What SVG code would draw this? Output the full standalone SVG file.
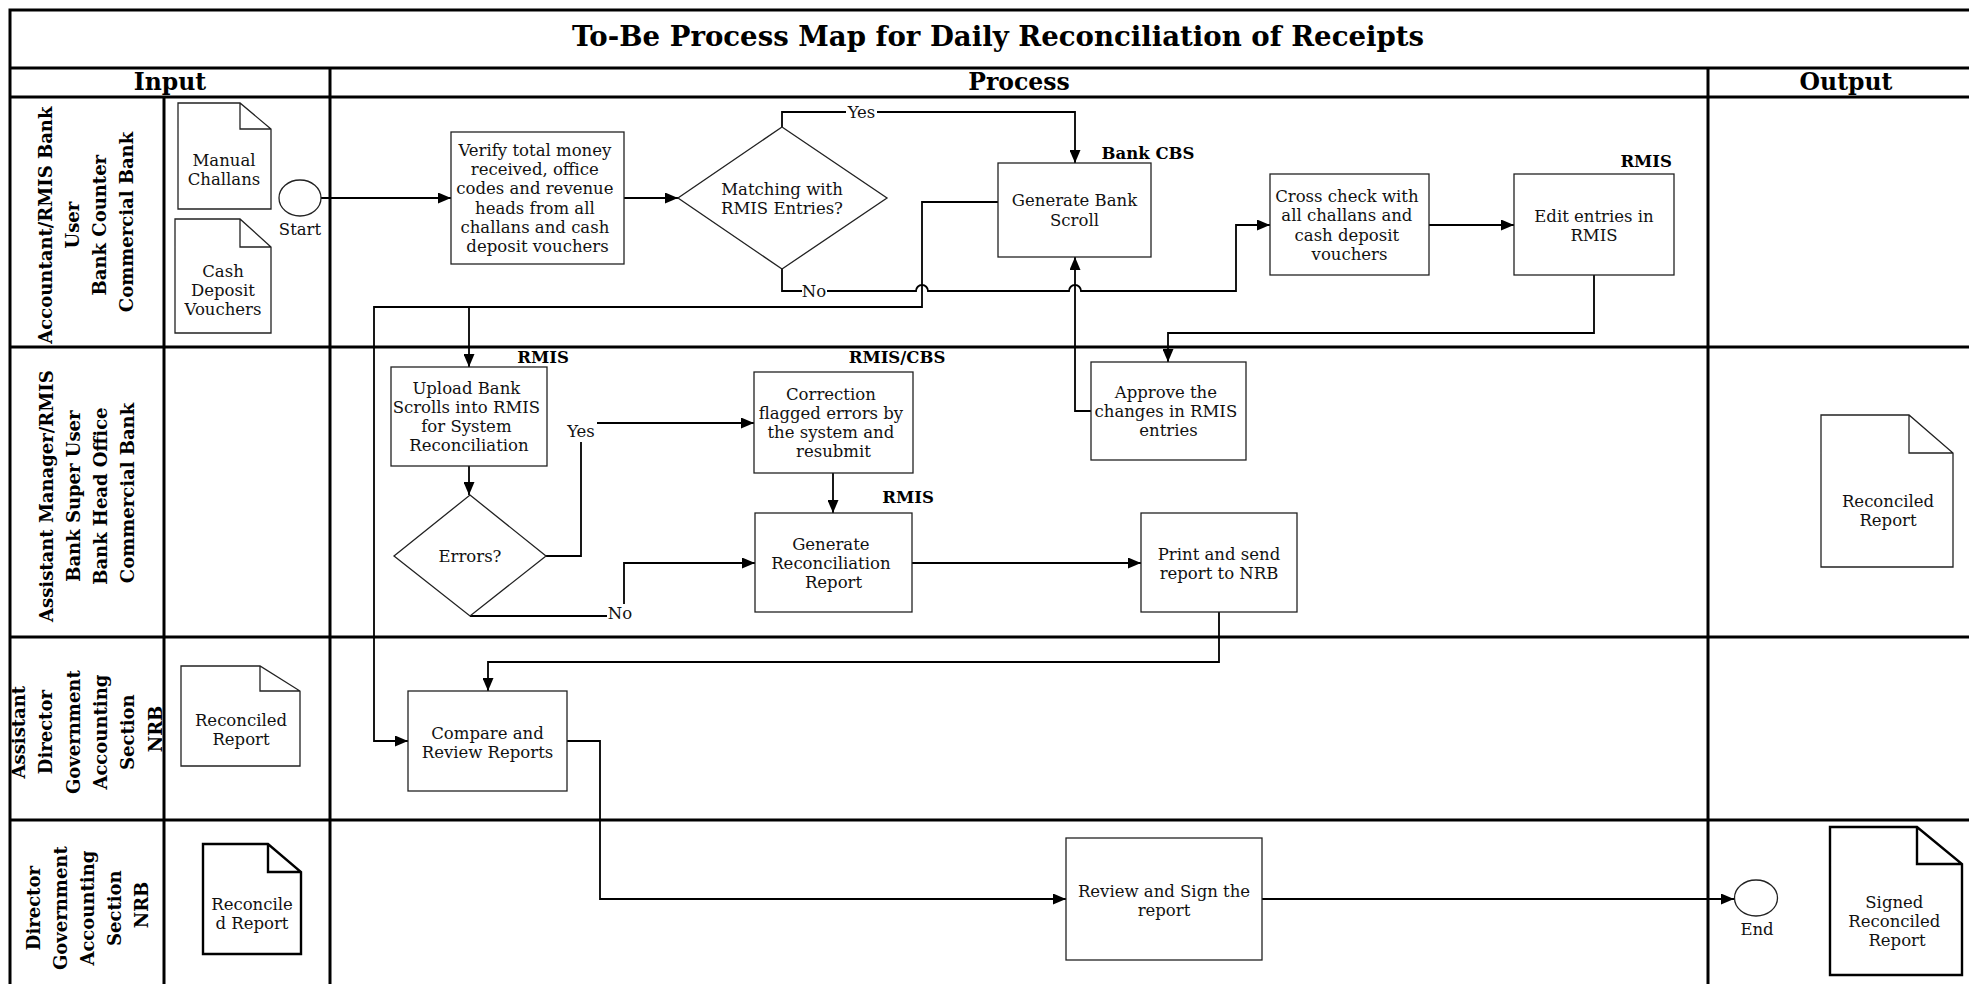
<svg xmlns="http://www.w3.org/2000/svg" width="1969" height="984" viewBox="0 0 1969 984">
  <style>
    .grid { fill: none; stroke: #000; stroke-width: 3; }
    .box { fill: #fff; stroke: #222; stroke-width: 1.3; }
    .doc { fill: #fff; stroke: #222; stroke-width: 1.3; }
    .doc.heavy { stroke: #000; stroke-width: 2.4; }
    .conn { fill: none; stroke: #000; stroke-width: 1.8; }
    .t { font-family: "DejaVu Serif", "Liberation Serif", serif; font-size: 16.5px; fill: #111; text-anchor: middle; }
    .tag { font-family: "DejaVu Serif", "Liberation Serif", serif; font-size: 16.5px; font-weight: bold; fill: #000; text-anchor: middle; }
    .hdr { font-family: "DejaVu Serif", "Liberation Serif", serif; font-size: 23.5px; font-weight: bold; fill: #000; text-anchor: middle; }
    .title { font-family: "DejaVu Serif", "Liberation Serif", serif; font-size: 27px; font-weight: bold; fill: #000; text-anchor: middle; }
    .lane { font-family: "DejaVu Serif", "Liberation Serif", serif; font-size: 18px; font-weight: bold; fill: #000; text-anchor: middle; }
    .lbl-bg { fill: #fff; }
  </style>
  <defs>
    <marker id="arrow" markerWidth="13" markerHeight="11" refX="13" refY="5.5" orient="auto" markerUnits="userSpaceOnUse">
      <path d="M0,0 L13,5.5 L0,11 Z" fill="#000"/>
    </marker>
    <clipPath id="lane3clip">
      <rect x="11.5" y="638.5" width="151" height="180"/>
    </clipPath>
  </defs>

  <rect x="0" y="0" width="1969" height="984" fill="#fff"/>

  <!-- swimlane grid -->
  <g id="grid">
    <rect class="grid" x="10" y="10" width="1975" height="990"/>
    <line class="grid" x1="10" y1="68" x2="1985" y2="68"/>
    <line class="grid" x1="10" y1="97" x2="1985" y2="97"/>
    <line class="grid" x1="10" y1="347" x2="1985" y2="347"/>
    <line class="grid" x1="10" y1="637" x2="1985" y2="637"/>
    <line class="grid" x1="10" y1="820" x2="1985" y2="820"/>
    <line class="grid" x1="164" y1="97" x2="164" y2="1000"/>
    <line class="grid" x1="330" y1="68" x2="330" y2="1000"/>
    <line class="grid" x1="1708" y1="68" x2="1708" y2="1000"/>
  </g>

  <g id="headings">
    <text class="title" x="998" y="46" textLength="852" lengthAdjust="spacingAndGlyphs">To-Be Process Map for Daily Reconciliation of Receipts</text>
    <text class="hdr" x="170" y="90">Input</text>
    <text class="hdr" x="1019" y="90">Process</text>
    <text class="hdr" x="1846" y="90">Output</text>
  </g>

  <!-- lane titles, written bottom-to-top -->
  <g id="lane-titles">
    <text class="lane" transform="translate(0,222) rotate(-90)">
      <tspan x="0" y="52">Accountant/RMIS Bank</tspan>
      <tspan x="0" y="79">User</tspan>
      <tspan x="0" y="106">Bank Counter</tspan>
      <tspan x="0" y="133">Commercial Bank</tspan>
    </text>
    <text class="lane" transform="translate(0,493) rotate(-90)">
      <tspan x="0" y="53">Assistant Manager/RMIS</tspan>
      <tspan x="0" y="80">Bank Super User</tspan>
      <tspan x="0" y="107">Bank Head Office</tspan>
      <tspan x="0" y="134">Commercial Bank</tspan>
    </text>
    <g clip-path="url(#lane3clip)">
      <text class="lane" transform="translate(0,729) rotate(-90)">
        <tspan x="0" y="25">Assistant</tspan>
        <tspan x="0" y="52">Director</tspan>
        <tspan x="0" y="79.5">Government</tspan>
        <tspan x="0" y="107">Accounting</tspan>
        <tspan x="0" y="134">Section</tspan>
        <tspan x="0" y="161.5">NRB</tspan>
      </text>
    </g>
    <text class="lane" transform="translate(0,905) rotate(-90)">
      <tspan x="0" y="40">Director</tspan>
      <tspan x="0" y="67">Government</tspan>
      <tspan x="0" y="94">Accounting</tspan>
      <tspan x="0" y="121">Section</tspan>
      <tspan x="0" y="148">NRB</tspan>
    </text>
  </g>

  <!-- connectors -->
  <g id="connectors">
    <path class="conn" d="M321,198 H451" marker-end="url(#arrow)"/>
    <path class="conn" d="M624,198 H678" marker-end="url(#arrow)"/>
    <path class="conn" d="M782,127 V112 H1075 V163" marker-end="url(#arrow)"/>
    <path class="conn" d="M782,269 V291 H916 A6,6 0 0 1 928,291 H1069 A6,6 0 0 1 1081,291 H1236 V225 H1270" marker-end="url(#arrow)"/>
    <path class="conn" d="M998,202 H922 V307 H374 V741 H408" marker-end="url(#arrow)"/>
    <path class="conn" d="M469,307 V367" marker-end="url(#arrow)"/>
    <path class="conn" d="M1429,225 H1514" marker-end="url(#arrow)"/>
    <path class="conn" d="M1594,275 V333 H1168 V362" marker-end="url(#arrow)"/>
    <path class="conn" d="M1091,411 H1075 V257" marker-end="url(#arrow)"/>
    <path class="conn" d="M469,466 V495" marker-end="url(#arrow)"/>
    <path class="conn" d="M546,556 H581 V423 H754" marker-end="url(#arrow)"/>
    <path class="conn" d="M833,473 V513" marker-end="url(#arrow)"/>
    <path class="conn" d="M470,616 H624 V563 H755" marker-end="url(#arrow)"/>
    <path class="conn" d="M912,563 H1141" marker-end="url(#arrow)"/>
    <path class="conn" d="M1219,612 V662 H488 V691" marker-end="url(#arrow)"/>
    <path class="conn" d="M567,741 H600 V899 H1066" marker-end="url(#arrow)"/>
    <path class="conn" d="M1262,899 H1734" marker-end="url(#arrow)"/>

    <rect class="lbl-bg" x="846" y="103" width="31" height="18"/>
    <text class="t" x="861.5" y="118">Yes</text>
    <rect class="lbl-bg" x="802" y="282" width="25" height="18"/>
    <text class="t" x="814" y="297">No</text>
    <rect class="lbl-bg" x="566" y="420" width="31" height="22"/>
    <text class="t" x="581" y="437">Yes</text>
    <rect class="lbl-bg" x="607" y="604" width="26" height="20"/>
    <text class="t" x="620" y="619">No</text>
  </g>

  <!-- lane 1 -->
  <g id="doc-manual-challans">
    <path class="doc" d="M178,103 H240 L271,129 V209 H178 Z M240,103 V129 H271"/>
    <text class="t"><tspan x="224" y="166">Manual</tspan><tspan x="224" y="185">Challans</tspan></text>
  </g>
  <g id="doc-cash-deposit">
    <path class="doc" d="M175,219 H240 L271,247 V333 H175 Z M240,219 V247 H271"/>
    <text class="t"><tspan x="223" y="277">Cash</tspan><tspan x="223" y="296">Deposit</tspan><tspan x="223" y="315">Vouchers</tspan></text>
  </g>
  <g id="start">
    <ellipse class="box" cx="300" cy="198" rx="21" ry="18"/>
    <text class="t" x="300" y="235">Start</text>
  </g>
  <g id="verify">
    <rect class="box" x="451" y="132" width="173" height="132"/>
    <text class="t">
      <tspan x="537.5" y="156">Verify total money</tspan>
      <tspan x="537.5" y="175.2">received, office</tspan>
      <tspan x="537.5" y="194.4">codes and revenue</tspan>
      <tspan x="537.5" y="213.6">heads from all</tspan>
      <tspan x="537.5" y="232.8">challans and cash</tspan>
      <tspan x="537.5" y="252">deposit vouchers</tspan>
    </text>
  </g>
  <g id="matching">
    <polygon class="box" points="782,127 887,198 782,269 678,198"/>
    <text class="t"><tspan x="782" y="195">Matching with</tspan><tspan x="782" y="214">RMIS Entries?</tspan></text>
  </g>
  <g id="bank-scroll">
    <rect class="box" x="998" y="163" width="153" height="94"/>
    <text class="t"><tspan x="1074.5" y="206">Generate Bank</tspan><tspan x="1074.5" y="226">Scroll</tspan></text>
    <text class="tag" x="1148" y="159">Bank CBS</text>
  </g>
  <g id="cross-check">
    <rect class="box" x="1270" y="174" width="159" height="101"/>
    <text class="t">
      <tspan x="1349.5" y="202">Cross check with</tspan>
      <tspan x="1349.5" y="221">all challans and</tspan>
      <tspan x="1349.5" y="241">cash deposit</tspan>
      <tspan x="1349.5" y="260">vouchers</tspan>
    </text>
  </g>
  <g id="edit-entries">
    <rect class="box" x="1514" y="174" width="160" height="101"/>
    <text class="t"><tspan x="1594" y="222">Edit entries in</tspan><tspan x="1594" y="241">RMIS</tspan></text>
    <text class="tag" x="1672" y="167" style="text-anchor:end">RMIS</text>
  </g>

  <!-- lane 2 -->
  <g id="upload">
    <rect class="box" x="391" y="367" width="156" height="99"/>
    <text class="t">
      <tspan x="469" y="394">Upload Bank</tspan>
      <tspan x="469" y="413">Scrolls into RMIS</tspan>
      <tspan x="469" y="432">for System</tspan>
      <tspan x="469" y="451">Reconciliation</tspan>
    </text>
    <text class="tag" x="543" y="363">RMIS</text>
  </g>
  <g id="errors">
    <polygon class="box" points="470,495 546,556 470,616 394,556"/>
    <text class="t" x="470" y="562">Errors?</text>
  </g>
  <g id="correction">
    <rect class="box" x="754" y="372" width="159" height="101"/>
    <text class="t">
      <tspan x="833.5" y="400">Correction</tspan>
      <tspan x="833.5" y="419">flagged errors by</tspan>
      <tspan x="833.5" y="438">the system and</tspan>
      <tspan x="833.5" y="457">resubmit</tspan>
    </text>
    <text class="tag" x="897" y="363">RMIS/CBS</text>
  </g>
  <g id="recon-report">
    <rect class="box" x="755" y="513" width="157" height="99"/>
    <text class="t">
      <tspan x="833.5" y="550">Generate</tspan>
      <tspan x="833.5" y="569">Reconciliation</tspan>
      <tspan x="833.5" y="588">Report</tspan>
    </text>
    <text class="tag" x="908" y="503">RMIS</text>
  </g>
  <g id="approve">
    <rect class="box" x="1091" y="362" width="155" height="98"/>
    <text class="t">
      <tspan x="1168.5" y="398">Approve the</tspan>
      <tspan x="1168.5" y="417">changes in RMIS</tspan>
      <tspan x="1168.5" y="436">entries</tspan>
    </text>
  </g>
  <g id="print-send">
    <rect class="box" x="1141" y="513" width="156" height="99"/>
    <text class="t"><tspan x="1219" y="560">Print and send</tspan><tspan x="1219" y="579">report to NRB</tspan></text>
  </g>
  <g id="doc-reconciled-out">
    <path class="doc" d="M1821,415 H1909 L1953,453 V567 H1821 Z M1909,415 V453 H1953"/>
    <text class="t"><tspan x="1888" y="507">Reconciled</tspan><tspan x="1888" y="526">Report</tspan></text>
  </g>

  <!-- lane 3 -->
  <g id="doc-reconciled-in">
    <path class="doc" d="M181,666 H260 L300,691 V766 H181 Z M260,666 V691 H300"/>
    <text class="t"><tspan x="241" y="726">Reconciled</tspan><tspan x="241" y="745">Report</tspan></text>
  </g>
  <g id="compare">
    <rect class="box" x="408" y="691" width="159" height="100"/>
    <text class="t"><tspan x="487.5" y="739">Compare and</tspan><tspan x="487.5" y="758">Review Reports</tspan></text>
  </g>

  <!-- lane 4 -->
  <g id="doc-reconciled-dir">
    <path class="doc heavy" d="M203,844 H268 L301,872 V954 H203 Z M268,844 V872 H301"/>
    <text class="t"><tspan x="252" y="910">Reconcile</tspan><tspan x="252" y="929">d Report</tspan></text>
  </g>
  <g id="review-sign">
    <rect class="box" x="1066" y="838" width="196" height="122"/>
    <text class="t"><tspan x="1164" y="897">Review and Sign the</tspan><tspan x="1164" y="916">report</tspan></text>
  </g>
  <g id="end">
    <ellipse class="box" cx="1756" cy="898" rx="21.5" ry="18"/>
    <text class="t" x="1757" y="935">End</text>
  </g>
  <g id="doc-signed">
    <path class="doc heavy" d="M1830,827 H1917 L1962,864 V975 H1830 Z M1917,827 V864 H1962"/>
    <text class="t">
      <tspan x="1897" y="908">Signed</tspan>
      <tspan x="1897" y="927">Reconciled</tspan>
      <tspan x="1897" y="946">Report</tspan>
    </text>
  </g>
</svg>
